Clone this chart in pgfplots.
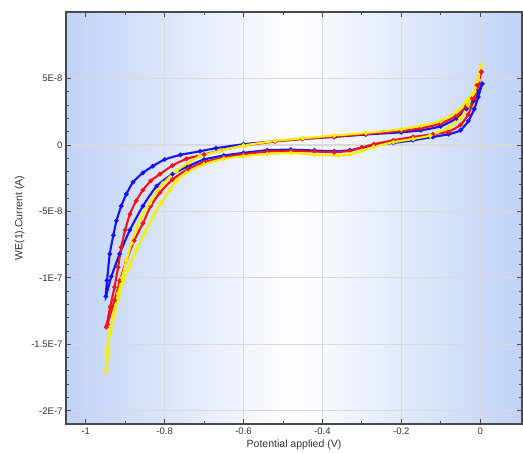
\documentclass[border=0pt]{standalone}
\usepackage{pgfplots}
\pgfplotsset{compat=1.18}
\usepackage{fontspec}
\setmainfont{Liberation Sans}
\definecolor{bgedge}{HTML}{C0D2F7}
\definecolor{gridc}{HTML}{D9D9D9}
\definecolor{axc}{HTML}{4A4A4A}
\definecolor{cvB}{HTML}{1414F0}
\definecolor{cvR}{HTML}{F01414}
\definecolor{cvY}{HTML}{F5F000}
\definecolor{txt}{HTML}{333333}

\begin{document}
\begin{tikzpicture}
\begin{axis}[
  scale only axis, width=456pt, height=412pt,
  xmin=-1.05, xmax=0.106, ymin=-21, ymax=10,
  xtick={-1,-0.8,-0.6,-0.4,-0.2,0},
  xticklabels={-1,-0.8,-0.6,-0.4,-0.2,0},
  ytick={-20,-15,-10,-5,0,5},
  yticklabels={-2E-7,-1.5E-7,-1E-7,-5E-8,0,5E-8},
  minor x tick num=1, minor y tick num=4,
  tick align=inside,
  major tick length=5pt, minor tick length=3pt,
  axis line style={axc, line width=1.1pt},
  tick style={axc, line width=0.8pt},
  grid=major, grid style={gridc, line width=1.2pt},
  axis background/.style={left color=bgedge, right color=bgedge, middle color=white},
  ticklabel style={font=\fontsize{9.5}{11}\selectfont, text=txt},
  label style={font=\fontsize{10.5}{12}\selectfont, text=txt},
  xlabel={Potential applied (V)},
  ylabel={WE(1).Current (A)},
  xlabel style={yshift=1pt},
  ylabel style={yshift=0pt},
  every axis plot/.append style={smooth, tension=0.35, line width=2.1pt,
    mark=*, mark size=1.1pt},
]
% blue
\addplot[cvB, mark options={fill=cvB, draw=none}] coordinates {
(0.005,4.6) (-0.005,3.6) (-0.015,2.7) (-0.03,1.8) (-0.05,1.1) (-0.08,0.8)
(-0.12,0.6) (-0.17,0.35) (-0.22,0.15) (-0.27,-0.05) (-0.30,-0.2) (-0.33,-0.4)
(-0.37,-0.48) (-0.42,-0.42) (-0.48,-0.36) (-0.54,-0.4) (-0.60,-0.6) (-0.65,-0.8)
(-0.70,-1.1) (-0.74,-1.6) (-0.78,-2.2) (-0.82,-3.1) (-0.855,-4.6) (-0.888,-6.4)
(-0.914,-8.2) (-0.935,-9.9) (-0.949,-11.4)
(-0.946,-10.2) (-0.939,-8.2) (-0.93,-6.8) (-0.922,-5.7) (-0.91,-4.6)
(-0.897,-3.7) (-0.88,-2.8) (-0.855,-2.1) (-0.83,-1.6) (-0.80,-1.1)
(-0.76,-0.75) (-0.71,-0.48) (-0.67,-0.25) (-0.60,0.05) (-0.52,0.28)
(-0.45,0.45) (-0.37,0.6) (-0.29,0.78) (-0.20,0.95) (-0.15,1.1) (-0.10,1.4)
(-0.06,2.0) (-0.035,2.7) (-0.017,3.3) (-0.005,4.0) (0.005,4.6)
};
% red
\addplot[cvR, mark options={fill=cvR, draw=none}] coordinates {
(0.003,5.5) (-0.005,4.5) (-0.015,3.5) (-0.03,2.3) (-0.05,1.5) (-0.08,1.0)
(-0.12,0.8) (-0.17,0.6) (-0.22,0.35) (-0.27,0.05) (-0.30,-0.2) (-0.33,-0.45)
(-0.37,-0.55) (-0.42,-0.5) (-0.48,-0.45) (-0.54,-0.5) (-0.60,-0.7) (-0.65,-0.95)
(-0.70,-1.3) (-0.74,-1.8) (-0.78,-2.6) (-0.812,-3.6) (-0.835,-4.6)
(-0.855,-5.9) (-0.877,-7.2) (-0.897,-8.7) (-0.913,-10.2) (-0.927,-11.7)
(-0.945,-13.5) (-0.948,-13.7)
(-0.938,-12.2) (-0.927,-10.7) (-0.918,-9.2) (-0.91,-7.7) (-0.90,-6.4)
(-0.888,-5.2) (-0.872,-4.2) (-0.855,-3.4) (-0.835,-2.7) (-0.812,-2.2)
(-0.78,-1.55) (-0.745,-1.05) (-0.70,-0.72) (-0.66,-0.43) (-0.60,-0.05)
(-0.52,0.25) (-0.45,0.45) (-0.37,0.62) (-0.29,0.82) (-0.20,1.05) (-0.15,1.25)
(-0.10,1.6) (-0.06,2.2) (-0.035,2.9) (-0.02,3.5) (-0.008,4.5) (0.003,5.5)
};
% yellow
\addplot[cvY, mark options={fill=cvY, draw=none}] coordinates {
(0.002,6.0) (-0.005,4.9) (-0.015,4.0) (-0.03,3.0) (-0.05,2.0) (-0.08,1.3)
(-0.127,0.7) (-0.17,0.45) (-0.22,0.2) (-0.27,-0.15) (-0.30,-0.45) (-0.33,-0.7)
(-0.36,-0.8) (-0.42,-0.75) (-0.48,-0.6) (-0.54,-0.7) (-0.60,-0.85) (-0.65,-1.05)
(-0.70,-1.45) (-0.745,-2.1) (-0.77,-2.7) (-0.787,-3.4) (-0.81,-4.4)
(-0.829,-5.4) (-0.85,-6.6) (-0.871,-7.9) (-0.89,-9.2) (-0.905,-10.2)
(-0.917,-11.5) (-0.927,-12.7) (-0.937,-14.0) (-0.944,-15.2) (-0.948,-17.0)
(-0.943,-15.5) (-0.939,-14.2) (-0.93,-12.8) (-0.918,-11.2) (-0.908,-10.0)
(-0.897,-8.7) (-0.884,-7.4) (-0.871,-6.2) (-0.855,-5.2) (-0.838,-4.4)
(-0.82,-3.5) (-0.804,-2.9) (-0.77,-1.95) (-0.74,-1.35) (-0.71,-0.85)
(-0.66,-0.45) (-0.60,-0.05) (-0.52,0.3) (-0.45,0.5) (-0.37,0.7) (-0.29,0.9)
(-0.20,1.18) (-0.15,1.45) (-0.10,1.8) (-0.06,2.5) (-0.035,3.3) (-0.02,3.8)
(-0.008,4.8) (0.002,6.0)
};
\end{axis}
\pgfresetboundingbox
\path ([xshift=-66pt,yshift=-28pt]current axis.south west) rectangle
      ([xshift=1pt,yshift=12pt]current axis.north east);
\end{tikzpicture}
\end{document}
